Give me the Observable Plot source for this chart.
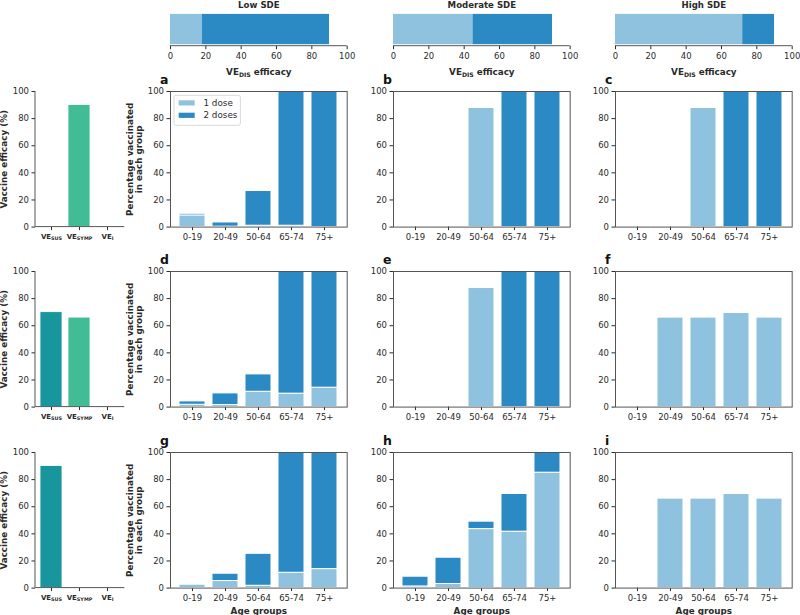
<!DOCTYPE html>
<html><head><meta charset="utf-8">
<script src="https://cdn.jsdelivr.net/npm/d3@7"></script>
<script src="https://cdn.jsdelivr.net/npm/@observablehq/plot@0.6"></script>
<style>
body{margin:0;background:#fff;}
#chart{position:relative;width:800px;height:615px;overflow:hidden;background:#fff;}
#chart svg{position:absolute;overflow:visible;}
</style></head><body><div id="chart"></div>
<script>
// ---------- data ----------
const ageGroups = ["0-19", "20-49", "50-64", "65-74", "75+"];
const doseLabels = ["1 dose", "2 doses"];
const veLabels = ["VE_SUS", "VE_SYMP", "VE_I"];
const sdeLabels = ["Low SDE", "Moderate SDE", "High SDE"];
const sdeOneDose = [18, 45, 72];
const sdeTwoDoses = [72, 45, 18];
const veRow1 = [0, 90, 0];
const veRow2 = [70, 66, 0];
const veRow3 = [90, 0, 0];
const panelA1 = [8.6, 0.3, 1, 1, 0],      panelA2 = [1.2, 3.1, 25.6, 99, 100];
const panelB1 = [0, 0, 87.8, 0, 0],       panelB2 = [0, 0, 0, 100, 100];
const panelC1 = [0, 0, 87.8, 0, 0],       panelC2 = [0, 0, 0, 100, 100];
const panelD1 = [1.7, 1.5, 11.3, 9.9, 14.3], panelD2 = [2.5, 8.6, 12.8, 90.1, 85.7];
const panelE1 = [0, 0, 87.8, 0, 0],       panelE2 = [0, 0, 0, 100, 100];
const panelF1 = [0, 66, 66, 69.4, 66],    panelF2 = [0, 0, 0, 0, 0];
const panelG1 = [2.5, 5.2, 1.7, 11.3, 14], panelG2 = [0, 5.4, 23.6, 88.7, 86];
const panelH1 = [1.2, 3, 43.5, 41.6, 85.1], panelH2 = [7.2, 19.4, 5.5, 27.8, 14.9];
const panelI1 = [0, 66, 66, 69.4, 66],    panelI2 = [0, 0, 0, 0, 0];
const yTicks = [0, 20, 40, 60, 80, 100];
const panelLetters = ["a", "b", "c", "d", "e", "f", "g", "h", "i"];
const yLabelMain = ["Percentage vaccinated", "in each group"];
const yLabelVE = "Vaccine efficacy (%)";
const xLabelMain = "Age groups";
const xLabelTop = "VE_DIS efficacy";

// ---------- style ----------
const LIGHT = "#8fc2de", DARK = "#2b89c3", TEAL = "#19969d", GREEN = "#42bc94", VEI = "#7fcdbb";
const FONT = "DejaVu Sans, sans-serif";
const TEXT = "#2a2a2a", SPINE = "#555";
const colX = [170.2, 392.7, 615.2], FW = 176.7;
const rowY = [90.7, 271.0, 451.7], FH = 135.6;
const leftX = 35.2, LW = 89.3;
const topY = 12.4, TH = 33.3, TOPH = 80;

const chart = document.getElementById("chart");
const baseStyle = {background: "transparent", overflow: "visible", fontFamily: FONT, fontSize: "8.5px", color: TEXT};

function place(svg, left, top) {
  svg.style.left = left + "px";
  svg.style.top = top + "px";
  chart.appendChild(svg);
  return svg;
}

function spines(sides) {
  return (index, scales, values, dims) => {
    const {width, height, marginLeft: l, marginRight: r, marginTop: t, marginBottom: b} = dims;
    const g = d3.create("svg:g").attr("stroke", SPINE).attr("stroke-width", 1);
    if (sides.includes("left")) g.append("line").attr("x1", l).attr("x2", l).attr("y1", t).attr("y2", height - b);
    if (sides.includes("bottom")) g.append("line").attr("x1", l).attr("x2", width - r).attr("y1", height - b).attr("y2", height - b);
    return g.node();
  };
}

function legendMark(index, scales, values, dims) {
  const x0 = dims.marginLeft + 4, y0 = dims.marginTop + 4.3;
  const g = d3.create("svg:g").attr("text-anchor", "start");
  g.append("rect").attr("x", x0).attr("y", y0).attr("width", 66.4).attr("height", 30).attr("rx", 2)
    .attr("fill", "white").attr("fill-opacity", 0.85).attr("stroke", "#cfcfcf").attr("stroke-width", 0.8);
  doseLabels.forEach((d, i) => {
    const cy = y0 + 7.6 + i * 12.4;
    g.append("rect").attr("x", x0 + 4.7).attr("y", cy - 2.6).attr("width", 16).attr("height", 5.2)
      .attr("fill", scales.color ? scales.color(d) : (i ? DARK : LIGHT));
    g.append("text").attr("x", x0 + 29.5).attr("y", cy).attr("dy", "0.35em").attr("text-anchor", "start")
      .attr("font-size", 8.8).attr("fill", TEXT).text(d);
  });
  return g.node();
}

function subscript(svg) {
  d3.select(svg).selectAll("text").each(function() {
    const m = /^VE_([A-Z]+)(.*)$/.exec(this.textContent);
    if (!m) return;
    const fs = parseFloat(getComputedStyle(this).fontSize) || 8.5;
    const s = d3.select(this);
    s.text(null);
    s.append("tspan").text("VE");
    s.append("tspan").attr("font-size", (fs * 0.7).toFixed(2)).attr("dy", (fs * 0.22).toFixed(2)).text(m[1]);
    if (m[2]) s.append("tspan").attr("dy", (-fs * 0.22).toFixed(2)).text(m[2]);
  });
}

function doseRows(one, two) {
  const rows = [];
  ageGroups.forEach((a, i) => rows.push({age: a, dose: doseLabels[0], value: one[i]}));
  ageGroups.forEach((a, i) => rows.push({age: a, dose: doseLabels[1], value: two[i]}));
  return rows.filter(d => d.value > 0);
}

function mainPanel(col, row, one, two) {
  const ML = 50, MR = 8, MT = 20, MB = 30;
  const marks = [
    Plot.barY(doseRows(one, two), {x: "age", y: "value", fill: "dose", stroke: "white", strokeWidth: 1}),
    Plot.frame({stroke: SPINE}),
    Plot.text([panelLetters[row * 3 + col]], {text: d => d, frameAnchor: "top-left", dx: -10.5, dy: -7.4,
      textAnchor: "start", lineAnchor: "bottom", fontWeight: "bold", fontSize: 12.5, fill: "#111"})
  ];
  if (col === 0) {
    marks.push(Plot.text([yLabelMain[0]], {text: d => d, frameAnchor: "left", dx: -40.7, rotate: -90,
      textAnchor: "middle", lineAnchor: "middle", fontWeight: "bold", fontSize: 8.8}));
    marks.push(Plot.text([yLabelMain[1]], {text: d => d, frameAnchor: "left", dx: -31.2, rotate: -90,
      textAnchor: "middle", lineAnchor: "middle", fontWeight: "bold", fontSize: 8.8}));
  }
  if (row === 2) {
    marks.push(Plot.text([xLabelMain], {text: d => d, frameAnchor: "bottom", dy: 22.7,
      textAnchor: "middle", lineAnchor: "middle", fontWeight: "bold", fontSize: 8.8}));
  }
  if (col === 0 && row === 0) marks.push(legendMark);
  const svg = Plot.plot({
    width: ML + FW + MR, height: MT + FH + MB,
    marginLeft: ML, marginRight: MR, marginTop: MT, marginBottom: MB,
    style: baseStyle,
    x: {type: "band", domain: ageGroups, paddingInner: 0.2, paddingOuter: 0.24, label: null, tickSize: 3.5, tickPadding: 3},
    y: {domain: [0, 100], ticks: yTicks, label: null, tickSize: 3.5, tickPadding: 3},
    color: {domain: doseLabels, range: [LIGHT, DARK]},
    marks
  });
  place(svg, colX[col] - ML, rowY[row] - MT);
}

function vePanel(row, vals) {
  const ML = 40, MR = 8, MT = 20, MB = 30;
  const rows = veLabels.map((v, i) => ({ve: v, value: vals[i]})).filter(d => d.value > 0);
  const svg = Plot.plot({
    width: ML + LW + MR, height: MT + FH + MB,
    marginLeft: ML, marginRight: MR, marginTop: MT, marginBottom: MB,
    style: baseStyle,
    x: {type: "band", domain: veLabels, paddingInner: 0.2, paddingOuter: 0.14, label: null, tickSize: 3.5, tickPadding: 3},
    y: {domain: [0, 100], ticks: yTicks, label: null, tickSize: 3.5, tickPadding: 3},
    color: {domain: veLabels, range: [TEAL, GREEN, VEI]},
    marks: [
      Plot.barY(rows, {x: "ve", y: "value", fill: "ve", stroke: "white", strokeWidth: 0.8}),
      spines(["left", "bottom"]),
      Plot.text([yLabelVE], {text: d => d, frameAnchor: "left", dx: -31, rotate: -90,
        textAnchor: "middle", lineAnchor: "middle", fontWeight: "bold", fontSize: 8.8})
    ]
  });
  place(svg, leftX - ML, rowY[row] - MT);
  d3.select(svg).selectAll("text").filter(function() { return /^VE_[A-Z]+$/.test(this.textContent); })
    .attr("font-weight", "bold").style("font-size", "7px");
  subscript(svg);
}

function sdePanel(col) {
  const ML = 14, MR = 14, MT = topY, MB = TOPH - topY - TH;
  const rows = [
    {dose: doseLabels[0], value: sdeOneDose[col]},
    {dose: doseLabels[1], value: sdeTwoDoses[col]}
  ];
  const svg = Plot.plot({
    width: ML + FW + MR, height: TOPH,
    marginLeft: ML, marginRight: MR, marginTop: MT, marginBottom: MB,
    style: baseStyle,
    x: {domain: [0, 100], ticks: yTicks, label: null, tickSize: 3.5, tickPadding: 3},
    color: {domain: doseLabels, range: [LIGHT, DARK]},
    marks: [
      Plot.barX(rows, {x: "value", fill: "dose", insetTop: 1.5, insetBottom: 1.5}),
      spines(["bottom"]),
      Plot.text([sdeLabels[col]], {text: d => d, frameAnchor: "top", dy: -4.4,
        textAnchor: "middle", lineAnchor: "bottom", fontWeight: "bold", fontSize: 8.6}),
      Plot.text([xLabelTop], {text: d => d, frameAnchor: "bottom", dy: 26,
        textAnchor: "middle", lineAnchor: "middle", fontWeight: "bold", fontSize: 8.8})
    ]
  });
  place(svg, colX[col] - ML, 0);
  subscript(svg);
}

// ---------- build ----------
[0, 1, 2].forEach(sdePanel);
vePanel(0, veRow1);
vePanel(1, veRow2);
vePanel(2, veRow3);
const panels = [
  [panelA1, panelA2], [panelB1, panelB2], [panelC1, panelC2],
  [panelD1, panelD2], [panelE1, panelE2], [panelF1, panelF2],
  [panelG1, panelG2], [panelH1, panelH2], [panelI1, panelI2]
];
panels.forEach(([one, two], k) => mainPanel(k % 3, Math.floor(k / 3), one, two));
</script></body></html>
